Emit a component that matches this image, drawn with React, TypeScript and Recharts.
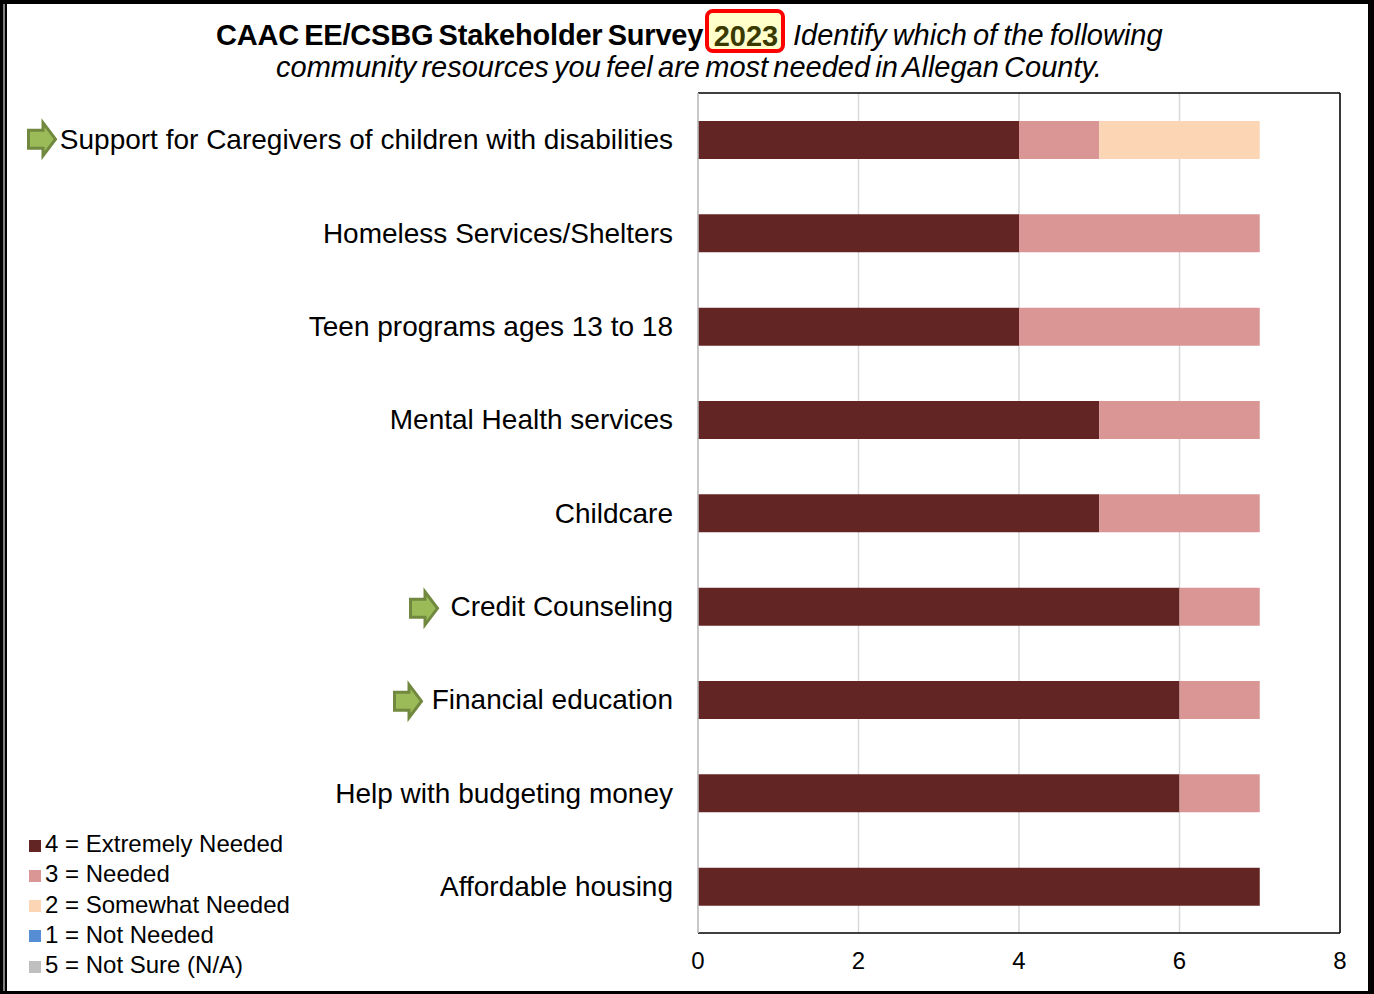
import React from 'react';
import { BarChart, Bar, XAxis, YAxis, CartesianGrid, Legend, ReferenceLine } from 'recharts';

const categories = [
  'Support for Caregivers of children with disabilities',
  'Homeless Services/Shelters',
  'Teen programs ages 13 to 18',
  'Mental Health services',
  'Childcare',
  'Credit Counseling',
  'Financial education',
  'Help with budgeting money',
  'Affordable housing',
];
const extremelyNeeded = [4, 4, 4, 5, 5, 6, 6, 6, 7];
const needed = [1, 3, 3, 2, 2, 1, 1, 1, 0];
const somewhatNeeded = [2, 0, 0, 0, 0, 0, 0, 0, 0];
const notNeeded = [0, 0, 0, 0, 0, 0, 0, 0, 0];
const notSure = [0, 0, 0, 0, 0, 0, 0, 0, 0];
const xTicks = [0, 2, 4, 6, 8];

const data = categories.map((name, i) => ({
  name,
  extremelyNeeded: extremelyNeeded[i],
  needed: needed[i],
  somewhatNeeded: somewhatNeeded[i],
  notNeeded: notNeeded[i],
  notSure: notSure[i],
}));

const FONT = '"Liberation Sans", Arial, sans-serif';

// where the green arrow sits for the flagged rows
const arrows: Record<string, { left: number; dy: number }> = {
  'Support for Caregivers of children with disabilities': { left: 27, dy: -0.5 },
  'Credit Counseling': { left: 409, dy: 2 },
  'Financial education': { left: 393, dy: 1.5 },
};

const CategoryTick = ({ x, y, payload }: any) => {
  const arrow = arrows[payload.value];
  return (
    <g>
      {arrow && (
        <path
          d={`M${arrow.left + 1.5},${y + arrow.dy - 9}h14.5v-7.5l12.5,16.5l-12.5,16.5v-7.5h-14.5z`}
          fill="#9bbb59"
          stroke="#71893f"
          strokeWidth={3}
        />
      )}
      <text x={x} y={y} dy={9.5} textAnchor="end" fontSize={28} fontFamily={FONT} fill="#000">
        {payload.value}
      </text>
    </g>
  );
};

const titleLine: React.CSSProperties = {
  position: 'absolute',
  fontFamily: FONT,
  fontSize: 29,
  lineHeight: '34px',
  whiteSpace: 'nowrap',
  color: '#000',
};

export default function App() {
  return (
    <div style={{ position: 'absolute', left: 0, top: 0, width: 1374, height: 994, background: '#fff', overflow: 'hidden' }}>
      <BarChart
        width={1374}
        height={994}
        data={data}
        layout="vertical"
        barSize={38}
        margin={{ top: 92, right: 34, bottom: 0, left: 0 }}
      >
        <CartesianGrid horizontal={false} stroke="#d9d9d9" strokeWidth={1.5} />
        <XAxis
          type="number"
          domain={[0, 8]}
          ticks={xTicks}
          height={61}
          tickLine={false}
          stroke="#000"
          strokeWidth={1.5}
          tickMargin={13}
          tick={{ fontSize: 24, fontFamily: FONT, fill: '#000' }}
        />
        <XAxis xAxisId="top" orientation="top" type="number" domain={[0, 8]} height={1} tick={false} tickLine={false} stroke="#000" strokeWidth={1.5} />
        <YAxis
          type="category"
          dataKey="name"
          width={698}
          interval={0}
          tickLine={false}
          stroke="#bfbfbf"
          strokeWidth={1.5}
          tick={<CategoryTick />}
          tickMargin={19}
        />
        <ReferenceLine x={8} stroke="#000" strokeWidth={1.5} />
        <Legend
          layout="vertical"
          align="center"
          verticalAlign="middle"
          iconType="square"
          iconSize={12}
          itemSorter={null}
          wrapperStyle={{ left: 29, top: 829, width: 300, fontFamily: FONT, fontSize: 24, lineHeight: '30.25px', textAlign: 'left' }}
          formatter={(value: string) => <span style={{ color: '#000' }}>{value}</span>}
        />
        <Bar dataKey="extremelyNeeded" name="4 = Extremely Needed" stackId="a" fill="#632523" isAnimationActive={false} />
        <Bar dataKey="needed" name="3 = Needed" stackId="a" fill="#d99694" isAnimationActive={false} />
        <Bar dataKey="somewhatNeeded" name="2 = Somewhat Needed" stackId="a" fill="#fcd5b5" isAnimationActive={false} />
        <Bar dataKey="notNeeded" name="1 = Not Needed" stackId="a" fill="#558ed5" isAnimationActive={false} />
        <Bar dataKey="notSure" name="5 = Not Sure (N/A)" stackId="a" fill="#bfbfbf" isAnimationActive={false} />
      </BarChart>

      <div style={{ ...titleLine, left: 216, top: 18, fontWeight: 700, letterSpacing: -0.2, wordSpacing: -2.6 }}>CAAC EE/CSBG Stakeholder Survey</div>
      <div
        style={{
          ...titleLine,
          left: 705,
          top: 9,
          width: 70,
          height: 36,
          paddingLeft: 2,
          lineHeight: '46px',
          border: '4px solid #ff0000',
          borderRadius: 8,
          background: '#ffffcc',
          color: '#3a3a00',
          fontWeight: 700,
          textAlign: 'center',
        }}
      >
        2023
      </div>
      <div style={{ ...titleLine, left: 793, top: 18, fontStyle: 'italic', wordSpacing: -1.9 }}>Identify which of the following</div>
      <div style={{ ...titleLine, left: 276, top: 50, fontStyle: 'italic', wordSpacing: -2.8 }}>community resources you feel are most needed in Allegan County.</div>

      {/* page frame, the left side is a double line */}
      <div style={{ position: 'absolute', left: 0, top: 0, width: 1374, height: 994, boxSizing: 'border-box', borderStyle: 'solid', borderColor: '#000', borderWidth: '4px 6px 3px 7px', pointerEvents: 'none' }} />
      <div style={{ position: 'absolute', left: 3, top: 4, width: 2, height: 987, background: '#808080', pointerEvents: 'none' }} />
    </div>
  );
}
